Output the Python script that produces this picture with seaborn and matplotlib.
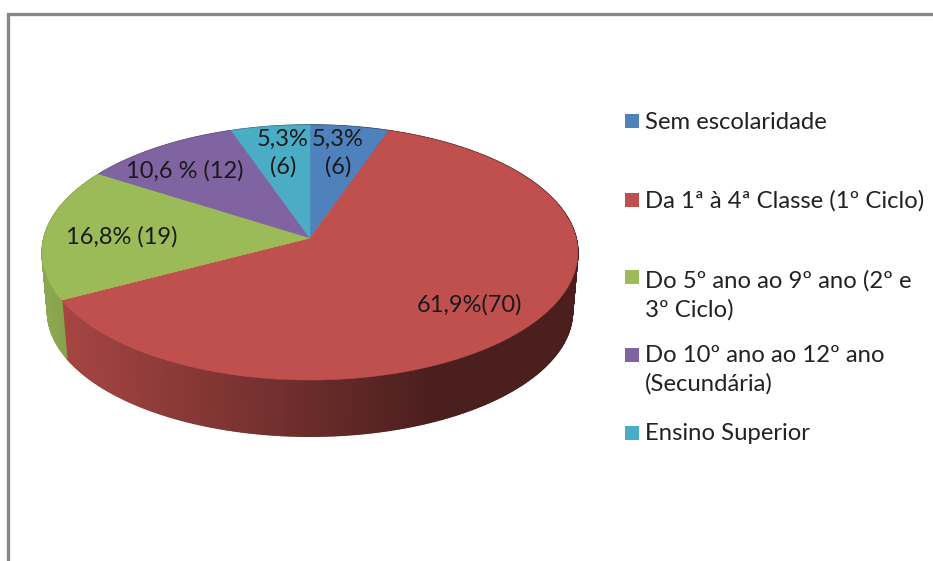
import numpy as np
import seaborn as sns
import matplotlib.pyplot as plt
from matplotlib.collections import PolyCollection
from matplotlib.patches import Rectangle

categories = ["Sem escolaridade", "Da 1ª à 4ª Classe (1º Ciclo)",
              "Do 5º ano ao 9º ano (2º e\n3º Ciclo)",
              "Do 10º ano ao 12º ano\n(Secundária)", "Ensino Superior"]
counts = [6, 70, 19, 12, 6]
slice_labels = ["5,3%\n(6)", "61,9%(70)", "16,8% (19)", "10,6 % (12)", "5,3%\n(6)"]
colors = ["#4f81bd", "#c0504d", "#9bbb59", "#8064a2", "#4bacc6"]

# layout, in picture pixels
label_xy = [(338, 153), (470, 305), (122, 237), (185, 171), (283, 153)]
legend_y = [122, 201, 295, 370, 433]
swatch_y = [121, 200, 277, 355, 433]

sns.set_theme(style="white")
plt.rcParams["font.family"] = ["Lato", "DejaVu Sans"]


def project(theta, apex_y=238, scale=1.0):
    # perspective view of the unit circle, theta clockwise from the top
    u, v = np.sin(theta), np.cos(theta)
    w = 1 + 0.114 * v
    return 310 + scale * 266 * u / w, apex_y - scale * 125.8 * v / w


def shade(x):
    # the wall gets darker from left to right
    return np.interp(x, [45, 65, 310, 430], [0.9, 0.86, 0.55, 0.39])


fig = plt.figure(figsize=(9.33, 5.61), dpi=100)
ax = fig.add_axes([0, 0, 1, 1])
ax.set_xlim(0, 933)
ax.set_ylim(561, 0)
ax.axis("off")

palette = sns.color_palette(colors)
edges = np.cumsum([0] + counts) / sum(counts) * 2 * np.pi

# frame of the original picture, open on the right and at the bottom
ax.plot([8, 8, 933], [561, 14, 14], color="#888888", lw=2.4, solid_joinstyle="miter")

# side wall
quads, quad_colors = [], []
for i, color in enumerate(palette):
    thetas = np.linspace(edges[i], edges[i + 1], max(int(counts[i] * 6), 4))
    x_top, y_top = project(thetas)
    x_bot, y_bot = project(thetas, apex_y=297, scale=0.98)
    for j in range(len(thetas) - 1):
        quads.append([(x_top[j], y_top[j]), (x_top[j + 1], y_top[j + 1]),
                      (x_bot[j + 1], y_bot[j + 1]), (x_bot[j], y_bot[j])])
        quad_colors.append(np.array(color) * shade((x_top[j] + x_top[j + 1]) / 2))
ax.add_collection(PolyCollection(quads, facecolors=quad_colors, edgecolors="face", linewidths=1.2))

# top face
for i, color in enumerate(palette):
    thetas = np.linspace(edges[i], edges[i + 1], max(int(counts[i] * 6), 4))
    x_top, y_top = project(thetas)
    ax.fill(np.r_[310, x_top], np.r_[238, y_top], color=color, lw=0.4)

for text, (x, y) in zip(slice_labels, label_xy):
    ax.text(x, y, text, ha="center", va="center", fontsize=17, color="#1a1a1a", linespacing=1.37)

# legend
for name, color, y, sy in zip(categories, palette, legend_y, swatch_y):
    ax.add_patch(Rectangle((625, sy - 7), 14, 14, color=color, lw=0))
    ax.text(645, y, name, ha="left", va="center", fontsize=17.2, color="#222222", linespacing=1.41)

fig.savefig("out.png", dpi=100)
